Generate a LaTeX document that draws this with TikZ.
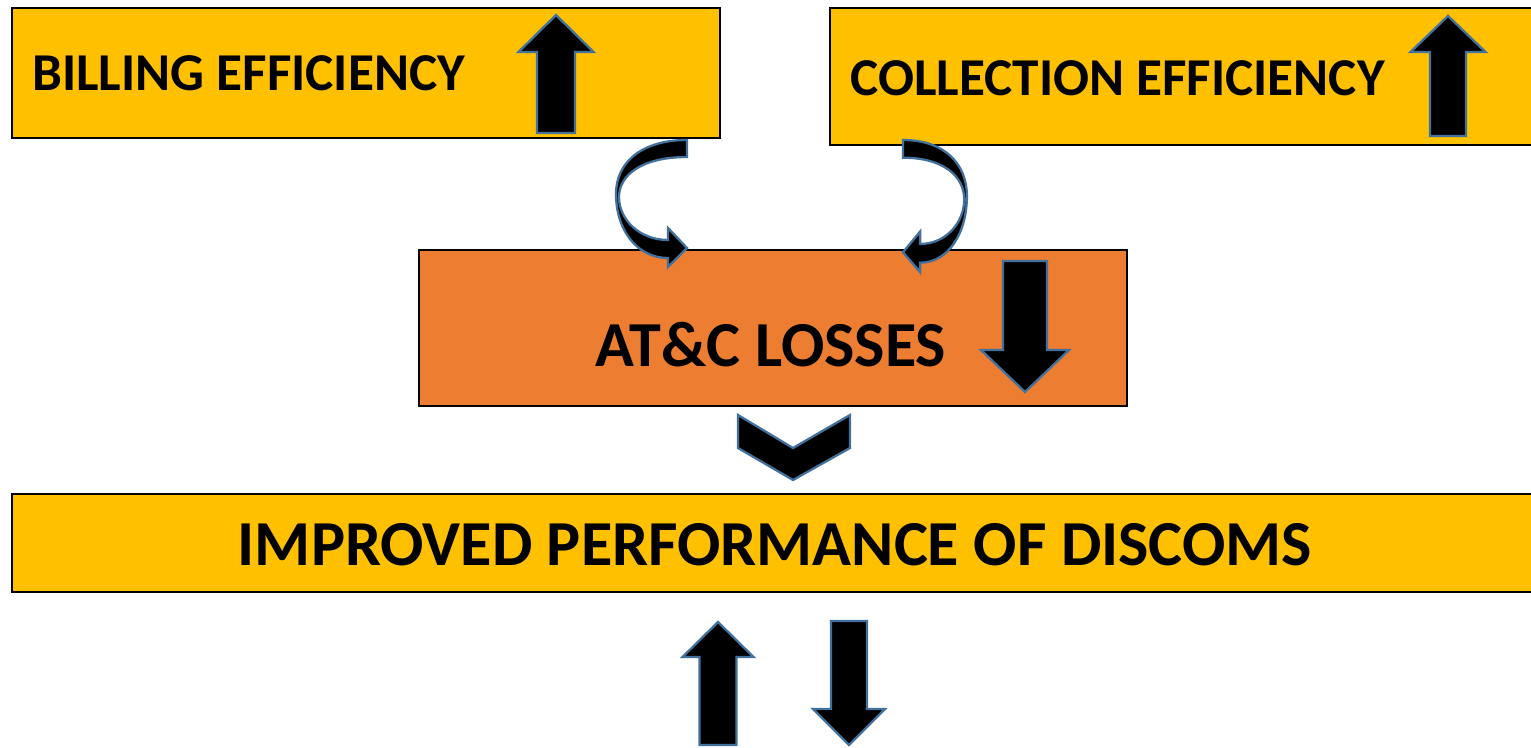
\documentclass[tikz,border=0pt]{standalone}
\usepackage{fontspec}
\setmainfont{Carlito}
\usetikzlibrary{positioning}

\definecolor{boxyellow}{HTML}{FFC000}
\definecolor{boxorange}{HTML}{ED7D31}
\definecolor{arrowedge}{HTML}{41719C}

% straight block arrow: x, tail y, tip y, half shaft, half head, head base y
\newcommand{\blockarrow}[6]{%
  \draw[blockarrow] (#1-#4,#2) -- (#1-#4,#6) -- (#1-#5,#6) -- (#1,#3)
    -- (#1+#5,#6) -- (#1+#4,#6) -- (#1+#4,#2) -- cycle;}

\tikzset{
    box/.style={draw=black, line width=1.2pt, rectangle, inner sep=0pt},
    boxtext/.style={font=\bfseries\fontsize{#1}{#1}\selectfont, inner sep=0pt},
    blockarrow/.style={fill=black, draw=arrowedge, line width=1.3pt, line join=miter},
    pics/curvedarrow/.style={code={
        \draw[blockarrow] (0,0) .. controls (-45,0) and (-71,22) .. (-71,54)
            .. controls (-71,90) and (-50,118) .. (-19,118) -- (-19,127) -- (0,108)
            -- (-19,88) -- (-19,100) .. controls (-47,100) and (-68,80) .. (-68,57)
            .. controls (-68,35) and (-45,17) .. (0,17) -- cycle;
    }}
}

\begin{document}
\begin{tikzpicture}[x=0.02cm, y=-0.02cm]
    \clip (0,0) rectangle (1531,747);
    \useasboundingbox (0,0) rectangle (1531,747);

    % boxes
    \node[box, fill=boxyellow, minimum width=14.16cm, minimum height=2.6cm] (billing) at (366,73) {};
    \node[box, fill=boxyellow, minimum width=14.2cm, minimum height=2.74cm] (collection) at (1185,76.5) {};
    \node[box, fill=boxorange, minimum width=14.16cm, minimum height=3.12cm] (losses) at (773,328) {};
    \node[box, fill=boxyellow, minimum width=30.56cm, minimum height=1.96cm] (discoms) at (776,543) {};

    % texts
    \node[boxtext=30.3, right=0.42cm of billing.west] (billingtext) {BILLING EFFICIENCY};
    \node[boxtext=30.3, anchor=west] (collectiontext) at (850,78) {COLLECTION EFFICIENCY};
    \node[boxtext=36.5] (lossestext) at (771,345) {AT\&C LOSSES};
    \node[boxtext=36.5] (discomstext) at (775,545) {IMPROVED PERFORMANCE OF DISCOMS};

    % arrows inside the boxes
    \blockarrow{556}{133}{15}{19}{37.5}{52}
    \blockarrow{1448}{136}{16}{18}{37.5}{52}
    \blockarrow{1025}{261}{392}{22}{44}{350}

    % curved arrows into the losses box
    \pic at (687,140) {curvedarrow};
    \pic[xscale=-0.9, yscale=1.04] at (903,140) {curvedarrow};

    % chevron
    \draw[blockarrow] (738,415) -- (793,448) -- (850,415) -- (850,448) -- (793,480) -- (738,448) -- cycle;

    % up and down below
    \blockarrow{718}{745}{622}{18.5}{35.5}{657}
    \blockarrow{849}{621}{745}{18}{36}{709}
\end{tikzpicture}
\end{document}
